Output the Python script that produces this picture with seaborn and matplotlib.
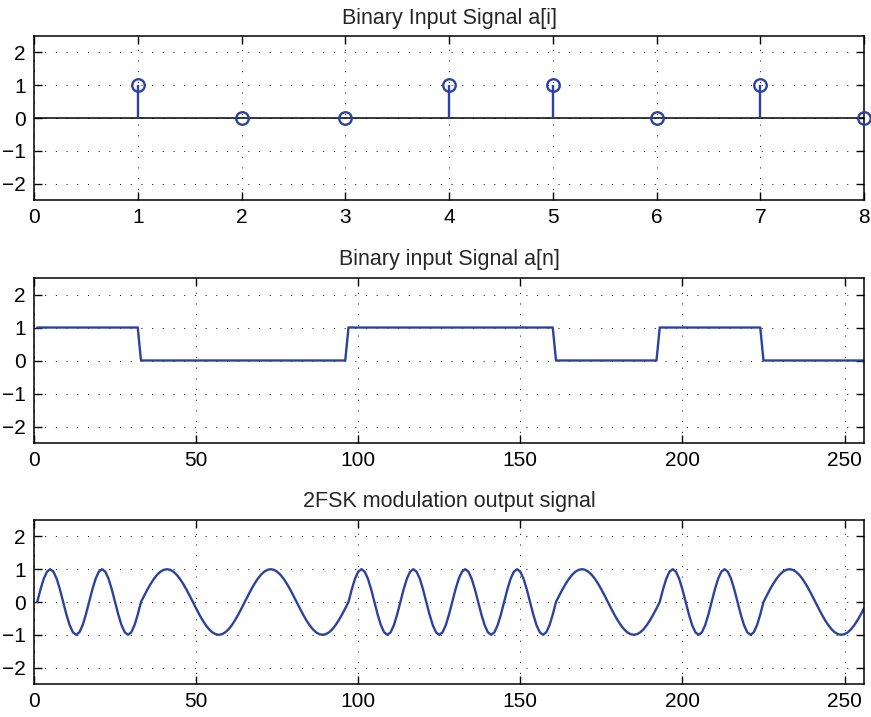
import numpy as np
import pandas as pd
import matplotlib
matplotlib.use("Agg")
import matplotlib.pyplot as plt
import seaborn as sns

# data
bits = [1, 0, 0, 1, 1, 0, 1, 0]          # a[i], i = 1..8
bit_index = [1, 2, 3, 4, 5, 6, 7, 8]
samples_per_bit = 32                     # a[n] has 256 samples
cycles_per_bit = {1: 2, 0: 1}            # 2FSK: "1" -> 2 cycles, "0" -> 1 cycle per bit
titles = ["Binary Input Signal a[i]", "Binary input Signal a[n]",
          "2FSK modulation output signal"]
yticks = [-2, -1, 0, 1, 2]
xticks_top = [0, 1, 2, 3, 4, 5, 6, 7, 8]
xticks_n = [0, 50, 100, 150, 200, 250]

blue = "#2b42a0"

# sampled signals built from the bits
n = np.arange(1, len(bits) * samples_per_bit + 1)
a_n = np.repeat(bits, samples_per_bit)
k = np.tile(np.arange(samples_per_bit), len(bits))
freq = np.repeat([cycles_per_bit[b] for b in bits], samples_per_bit)
fsk = np.sin(2 * np.pi * freq * k / samples_per_bit)
df = pd.DataFrame({"n": n, "a": a_n, "fsk": fsk})

sns.set_style("ticks")
plt.rcParams["font.family"] = ["Liberation Sans", "DejaVu Sans"]
plt.rcParams["font.size"] = 15

fig = plt.figure(figsize=(8.71, 7.17), dpi=100)
W, H = 871, 717
boxes = [(34, 36, 864, 200), (34, 278, 864, 443), (34, 520, 864, 684)]
axes = [fig.add_axes([l / W, 1 - b / H, (r - l) / W, (b - t) / H]) for l, t, r, b in boxes]

# top: stem plot
ax = axes[0]
ax.axhline(0, color="black", lw=1.1, zorder=2)
ax.vlines(bit_index, 0, bits, color=blue, lw=1.7, zorder=3)
ax.plot(bit_index, bits, "o", ms=9, mfc="none", mec=blue, mew=1.7, zorder=4, clip_on=False)
ax.set_xlim(0, 8)
ax.set_xticks(xticks_top)

# middle: a[n]
ax = axes[1]
sns.lineplot(data=df, x="n", y="a", ax=ax, color=blue, lw=1.7)
ax.set_xlim(0, 256)
ax.set_xticks(xticks_n)

# bottom: 2FSK
ax = axes[2]
sns.lineplot(data=df, x="n", y="fsk", ax=ax, color=blue, lw=1.7)
ax.set_xlim(0, 256)
ax.set_xticks(xticks_n)

for ax, title in zip(axes, titles):
    ax.set_ylim(-2.5, 2.5)
    ax.set_yticks(yticks)
    ax.set_yticklabels(["\u2212" + str(-v) if v < 0 else str(v) for v in yticks])
    ax.set_xlabel("")
    ax.set_ylabel("")
    ax.set_title(title, fontsize=15.5, pad=9)
    ax.grid(True, color="black", lw=0.7, linestyle=(0, (1, 10)))
    ax.tick_params(direction="in", length=6, width=1, top=True, right=True,
                   labelsize=15, pad=6, colors="black")
    for s in ax.spines.values():
        s.set_visible(True)
        s.set_linewidth(1.1)
        s.set_color("black")

fig.savefig("out.png", dpi=100)
